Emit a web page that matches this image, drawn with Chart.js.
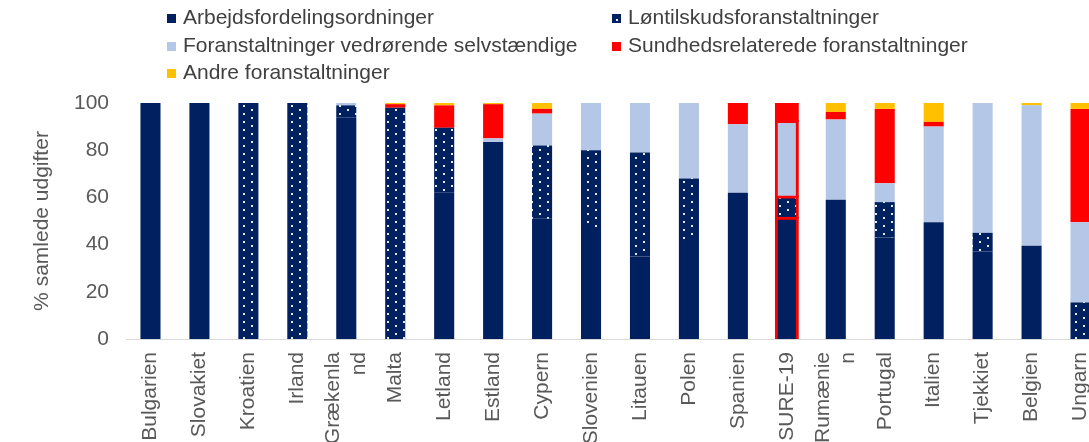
<!DOCTYPE html>
<html>
<head>
<meta charset="utf-8">
<script src="https://cdn.jsdelivr.net/npm/chart.js@4.4.1/dist/chart.umd.min.js"></script>
<style>
  html, body { margin: 0; padding: 0; background: #fff; overflow: hidden; }
  #wrap { position: relative; width: 1105px; height: 442px; }
  #legend { position: absolute; left: 0; top: 0; width: 1089px; height: 90px;
    font-family: 'Liberation Sans', Arial, sans-serif; font-size: 21px; color: #404040; }
  .item { position: absolute; white-space: nowrap; line-height: 24px; }
  .box { display: inline-block; width: 9px; height: 9px; margin-right: 7px; vertical-align: 1px; }
</style>
</head>
<body>
<div id="wrap">
  <canvas id="sureChart"></canvas>
  <div id="legend"></div>
</div>
<script>
// categories and shares (% of total expenditure)
const countries = ['Bulgarien', 'Slovakiet', 'Kroatien', 'Irland', ['Grækenla', 'nd'], 'Malta', 'Letland',
  'Estland', 'Cypern', 'Slovenien', 'Litauen', 'Polen', 'Spanien', 'SURE-19', ['Rumænie', 'n'],
  'Portugal', 'Italien', 'Tjekkiet', 'Belgien', 'Ungarn'];

const arbejdsfordeling = [100, 100, 0, 0, 94, 0, 62, 83.5, 51, 47, 35, 42, 62, 51, 59, 43, 49.5, 37, 39.5, 0];
const loentilskud      = [0, 0, 100, 100, 5, 98, 27.5, 0, 31, 33, 44, 26, 0, 9, 0, 15, 0, 8, 0, 15.5];
const selvstaendige    = [0, 0, 0, 0, 1, 0, 0, 1.5, 13.5, 20, 21, 32, 29, 32, 34, 8, 40.5, 55, 59.5, 34];
const sundhed          = [0, 0, 0, 0, 0, 1.5, 9.5, 14.5, 2, 0, 0, 0, 9, 8, 3.2, 31.5, 2, 0, 0, 48];
const andre            = [0, 0, 0, 0, 0, 0.5, 1, 0.5, 2.5, 0, 0, 0, 0, 0, 3.8, 2.5, 8, 0, 1, 2.5];

const yTicks = [0, 20, 40, 60, 80, 100];

const navy = '#002060';
const sureIndex = 13;

// navy with white dots for the wage subsidy series
function dotPattern() {
  const c = document.createElement('canvas');
  c.width = 16; c.height = 8;
  const g = c.getContext('2d');
  g.fillStyle = navy;
  g.fillRect(0, 0, 16, 8);
  g.fillStyle = '#e4eaf4';
  g.fillRect(3, 1, 2, 2);
  g.fillRect(11, 5, 2, 2);
  return g.createPattern(c, 'repeat');
}

Chart.defaults.font.family = "'Liberation Sans', Arial, sans-serif";
Chart.defaults.font.size = 21;
Chart.defaults.color = '#595959';

const sureBorder = ctx => ctx.dataIndex === sureIndex ? 3 : 0;
const sureInflate = ctx => ctx.dataIndex === sureIndex ? 2 : (ctx.raw ? 'auto' : 0);

function series(label, data, color) {
  return {
    label: label,
    data: data,
    backgroundColor: color,
    borderColor: '#ff0000',
    borderWidth: sureBorder,
    inflateAmount: sureInflate,
    barPercentage: 0.41,
    categoryPercentage: 1
  };
}

// centre the two-line (wrapped) category labels on their tick
const centreWrapped = {
  id: 'centreWrapped',
  beforeDraw(chart) {
    const x = chart.scales.x;
    const lh = Chart.helpers.toFont(x.options.ticks.font).lineHeight;
    x.getLabelItems(chart.chartArea).forEach(it => {
      if (Array.isArray(it.label) && !it._shifted) {
        it.options.translation[0] -= (it.label.length - 1) * lh / 2;
        it._shifted = true;
      }
    });
  }
};

const ctx = document.getElementById('sureChart').getContext('2d');
const chart = new Chart(ctx, {
  type: 'bar',
  data: {
    labels: countries,
    datasets: [
      series('Arbejdsfordelingsordninger', arbejdsfordeling, navy),
      series('Løntilskudsforanstaltninger', loentilskud, dotPattern()),
      series('Foranstaltninger vedrørende selvstændige', selvstaendige, '#b4c7e7'),
      series('Sundhedsrelaterede foranstaltninger', sundhed, '#ff0000'),
      series('Andre foranstaltninger', andre, '#ffc000')
    ]
  },
  options: {
    responsive: true,
    maintainAspectRatio: false,
    animation: false,
    layout: { padding: { top: 103, left: 0, right: 0, bottom: 0 } },
    plugins: { legend: { display: false }, tooltip: { enabled: false } },
    scales: {
      x: {
        stacked: true,
        grid: { display: false, drawTicks: false },
        border: { display: true, color: '#d9d9d9', width: 1 },
        ticks: { autoSkip: false, minRotation: 90, maxRotation: 90, padding: 13, color: '#595959' },
        afterFit: scale => { scale.height = 103; scale.paddingLeft = 0; scale.paddingRight = 0; }
      },
      y: {
        stacked: true,
        min: 0,
        max: 100,
        grid: { display: false, drawTicks: false },
        border: { display: false },
        afterBuildTicks: scale => { scale.ticks = yTicks.map(v => ({ value: v })); },
        ticks: { padding: 17, color: '#595959' },
        title: { display: true, text: '% samlede udgifter', color: '#595959', padding: { top: 30, bottom: 0 } },
        afterFit: scale => { scale.width = 126; }
      }
    }
  },
  plugins: [centreWrapped]
});

// two-column legend like the original
const legendPos = [[167, 5], [612, 5], [167, 33], [612, 33], [167, 60]];
const legendEl = document.getElementById('legend');
chart.data.datasets.forEach((ds, i) => {
  const item = document.createElement('div');
  item.className = 'item';
  item.style.left = legendPos[i][0] + 'px';
  item.style.top = legendPos[i][1] + 'px';
  const box = document.createElement('span');
  box.className = 'box';
  if (i === 1) {
    box.style.background = 'radial-gradient(circle at 5px 6px, #e4eaf4 0 1px, ' + navy + ' 1.5px)';
  } else {
    box.style.background = ds.backgroundColor;
  }
  item.appendChild(box);
  item.appendChild(document.createTextNode(ds.label));
  legendEl.appendChild(item);
});
</script>
</body>
</html>
